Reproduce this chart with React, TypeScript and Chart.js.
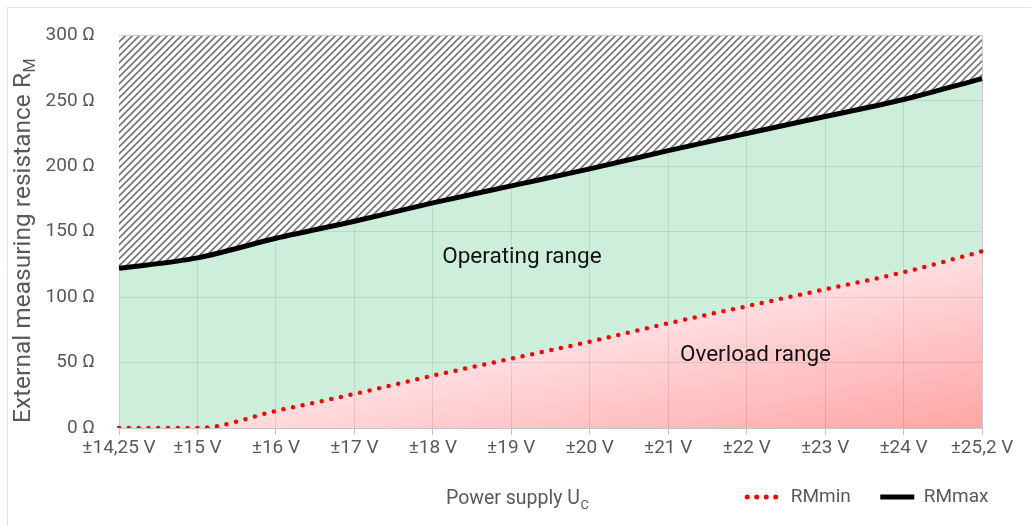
import React, { useEffect, useRef } from "react";
import { Chart, registerables } from "chart.js";

Chart.register(...registerables);

// ---- data ----
const categories = ["±14,25 V", "±15 V", "±16 V", "±17 V", "±18 V", "±19 V", "±20 V", "±21 V", "±22 V", "±23 V", "±24 V", "±25,2 V"];
const rmMin = [0, 0, 13, 26, 40, 53, 66, 80, 93, 106, 119, 135];
const rmMax = [122, 130, 145, 158, 172, 185, 198, 212, 225, 238, 251, 267];
const yTicks = [0, 50, 100, 150, 200, 250, 300];
const seriesNames = ["RMmin", "RMmax"];
const xTitle = ["Power supply U", "C"];
const yTitle = ["External measuring resistance R", "M"];
const regionLabels = ["Operating range", "Overload range"];
// label anchors in data space: [category index, value]
const regionAnchors = [[4.12, 130.5], [7.15, 55.7]];

const FONT = "Roboto, 'Noto Sans', sans-serif";
const GRAY = "#595959";

function makeHatch(ctx: CanvasRenderingContext2D) {
  const s = 7;
  const c = document.createElement("canvas");
  c.width = s;
  c.height = s;
  const x = c.getContext("2d")!;
  x.fillStyle = "#ffffff";
  x.fillRect(0, 0, s, s);
  x.strokeStyle = "#787878";
  x.lineWidth = 1.7;
  x.beginPath();
  x.moveTo(-2, s + 2);
  x.lineTo(s + 2, -2);
  x.moveTo(-2, 2);
  x.lineTo(2, -2);
  x.moveTo(s - 2, s + 2);
  x.lineTo(s + 2, s - 2);
  x.stroke();
  return ctx.createPattern(c, "repeat");
}

const decorPlugin = {
  id: "decor",
  beforeDraw(chart: any) {
    const ctx = chart.ctx as CanvasRenderingContext2D;
    ctx.save();
    ctx.fillStyle = "#ffffff";
    ctx.fillRect(0, 0, chart.width, chart.height);
    ctx.strokeStyle = "#e2e2e2";
    ctx.lineWidth = 1;
    ctx.beginPath();
    ctx.moveTo(7.5, chart.height);
    ctx.lineTo(7.5, 7.5);
    ctx.lineTo(chart.width, 7.5);
    ctx.stroke();
    ctx.restore();
  },
  afterDatasetsDraw(chart: any) {
    const ctx = chart.ctx as CanvasRenderingContext2D;
    const xs = chart.scales.x;
    const ys = chart.scales.y;
    ctx.save();
    ctx.fillStyle = "#111111";
    ctx.font = `22.5px ${FONT}`;
    ctx.textAlign = "left";
    ctx.textBaseline = "middle";
    regionLabels.forEach((t, i) => {
      const [ix, v] = regionAnchors[i];
      ctx.fillText(t, xs.getPixelForValue(ix), ys.getPixelForValue(v));
    });
    ctx.restore();
  },
  afterDraw(chart: any) {
    const ctx = chart.ctx as CanvasRenderingContext2D;
    const area = chart.chartArea;
    ctx.save();
    ctx.fillStyle = GRAY;
    ctx.textBaseline = "alphabetic";
    ctx.textAlign = "left";
    // x title
    ctx.font = `19.5px ${FONT}`;
    const xMainW = ctx.measureText(xTitle[0]).width;
    const xStart = 446;
    ctx.fillText(xTitle[0], xStart, 504);
    ctx.font = `13px ${FONT}`;
    ctx.fillText(xTitle[1], xStart + xMainW + 0.5, 509);
    // y title
    ctx.translate(30, area.bottom - 5);
    ctx.rotate(-Math.PI / 2);
    ctx.font = `24.5px ${FONT}`;
    const yMainW = ctx.measureText(yTitle[0]).width;
    ctx.fillText(yTitle[0], 0, 0);
    ctx.font = `16px ${FONT}`;
    ctx.fillText(yTitle[1], yMainW + 0.5, 5);
    ctx.restore();
  },
};

export default function App() {
  const ref = useRef<HTMLCanvasElement>(null);

  useEffect(() => {
    const canvas = ref.current!;
    const ctx = canvas.getContext("2d")!;
    const hatch = makeHatch(ctx);

    const redFill = (c: any) => {
      const a = c.chart.chartArea;
      if (!a) return "rgba(255,150,150,0.6)";
      const h = a.bottom - a.top;
      const w = a.right - a.left;
      const g = c.chart.ctx.createLinearGradient(a.right, a.bottom - 0.45 * h, a.right + 0.045 * w, a.bottom);
      g.addColorStop(0, "rgba(255,200,205,0.6)");
      g.addColorStop(1, "rgba(255,100,100,0.6)");
      return g;
    };

    const chart = new Chart(canvas, {
      type: "line",
      data: {
        labels: categories,
        datasets: [
          {
            label: seriesNames[0],
            data: rmMin,
            borderColor: "#ff0000",
            borderWidth: 4.5,
            borderDash: [0, 9.8],
            borderCapStyle: "round",
            pointRadius: 0,
            cubicInterpolationMode: "monotone",
            fill: "origin",
            backgroundColor: redFill,
          },
          {
            label: seriesNames[1],
            data: rmMax,
            borderColor: "#000000",
            borderWidth: 5,
            pointRadius: 0,
            cubicInterpolationMode: "monotone",
            fill: 0,
            backgroundColor: "rgba(170,227,193,0.6)",
          },
          {
            label: "hatch",
            data: rmMax,
            borderWidth: 0,
            borderColor: "rgba(0,0,0,0)",
            pointRadius: 0,
            cubicInterpolationMode: "monotone",
            fill: "end",
            backgroundColor: hatch as any,
          },
        ],
      },
      options: {
        responsive: false,
        animation: false,
        devicePixelRatio: 1,
        layout: { padding: { left: 0, right: 13, top: 35, bottom: 9.5 } },
        plugins: {
          tooltip: { enabled: false },
          title: { display: false },
          legend: {
            display: true,
            position: "bottom",
            align: "end",
            labels: {
              usePointStyle: true,
              pointStyleWidth: 34,
              padding: 29.5,
              color: GRAY,
              font: { family: FONT, size: 19 },
              generateLabels: () => [
                {
                  text: seriesNames[0],
                  pointStyle: "line",
                  strokeStyle: "#ff0000",
                  fillStyle: "#ff0000",
                  lineWidth: 5,
                  lineDash: [0, 9.5],
                  lineCap: "round",
                  datasetIndex: 0,
                  hidden: false,
                  fontColor: GRAY,
                } as any,
                {
                  text: seriesNames[1],
                  pointStyle: "line",
                  strokeStyle: "#000000",
                  fillStyle: "#000000",
                  lineWidth: 5,
                  lineCap: "butt",
                  datasetIndex: 1,
                  hidden: false,
                  fontColor: GRAY,
                } as any,
              ],
            },
          },
        },
        scales: {
          x: {
            type: "category",
            offset: false,
            grid: { color: "rgba(0,0,0,0.2)", tickLength: 7, drawTicks: true, tickColor: "#c4c4c4" },
            border: { color: "#c4c4c4" },
            ticks: { color: GRAY, font: { family: FONT, size: 19 }, padding: 2, maxRotation: 0, autoSkip: false },
            afterFit: (s: any) => {
              s.height = 30;
            },
          },
          y: {
            type: "linear",
            min: 0,
            max: 300,
            grid: { color: "rgba(0,0,0,0.2)", drawTicks: false },
            border: { color: "#c4c4c4" },
            afterBuildTicks: (s: any) => {
              s.ticks = yTicks.map((v) => ({ value: v }));
            },
            ticks: {
              color: GRAY,
              font: { family: FONT, size: 19 },
              padding: 24,
              callback: (v: any) => `${v} Ω`,
            },
            afterFit: (s: any) => {
              s.width = 119;
            },
          },
          yRight: {
            type: "linear",
            position: "right",
            display: true,
            grid: { display: false, drawTicks: false },
            border: { display: false },
            ticks: { display: false },
            afterFit: (s: any) => {
              s.width = 36;
            },
          },
        },
      },
      plugins: [decorPlugin],
    } as any);

    return () => chart.destroy();
  }, []);

  return (
    <div style={{ position: "fixed", left: 0, top: 0, width: 1031, height: 526, background: "#fff" }}>
      <canvas ref={ref} width={1031} height={526} style={{ display: "block", width: 1031, height: 526 }} />
    </div>
  );
}
